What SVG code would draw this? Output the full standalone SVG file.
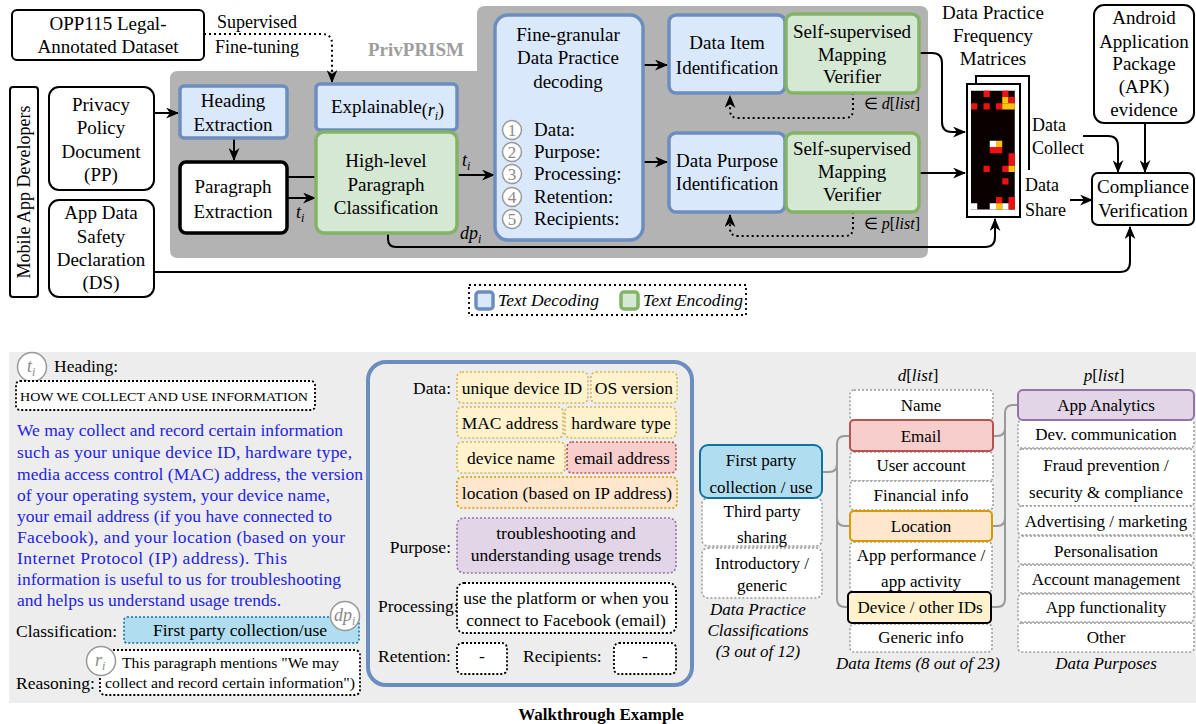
<svg xmlns="http://www.w3.org/2000/svg" width="1196" height="724" viewBox="0 0 1196 724">
  <defs>
    <style>
      text { font-family: "Liberation Serif", "Times New Roman", serif; fill: #000; }
      .s19 { font-size: 19px; }
      .s18 { font-size: 18px; }
      .s17 { font-size: 17.5px; }
      .s16 { font-size: 17px; }
      .m { text-anchor: middle; }
      .e { text-anchor: end; }
      .i { font-style: italic; }
      .box { fill: #fff; stroke: #000; stroke-width: 2; }
      .dec { fill: #dae8fc; stroke: #6c8ebf; stroke-width: 3.5; }
      .enc { fill: #d5e8d4; stroke: #82b366; stroke-width: 3.5; }
      .wire { fill: none; stroke: #000; stroke-width: 2; }
      .dotw { fill: none; stroke: #000; stroke-width: 2; stroke-dasharray: 2 3; }
      .gline { fill: none; stroke: #9a9a9a; stroke-width: 2; }
      .dbox { fill: #fff; stroke: #9a9a9a; stroke-width: 1.5; stroke-dasharray: 2 2; }
      .kbox { fill: #fff; stroke: #000; stroke-width: 1.8; stroke-dasharray: 2 2; }
      .ybox { fill: #fff2cc; stroke: #d6b656; stroke-width: 1.6; stroke-dasharray: 2 2; }
      .rbox { fill: #f8cecc; stroke: #b85450; stroke-width: 1.6; stroke-dasharray: 2 2; }
      .obox { fill: #ffe6cc; stroke: #d79b00; stroke-width: 1.6; stroke-dasharray: 2 2; }
      .pbox { fill: #e1d5e7; stroke: #9673a6; stroke-width: 1.6; stroke-dasharray: 2 2; }
      .circ { fill: #fff; stroke: #999; stroke-width: 1.5; }
      .gnum { fill: #8a8a8a; font-size: 17px; }
      .blue { fill: #2222e6; font-size: 17.5px; }
      .red { fill: #ee1111; }
      .yel { fill: #ffc20e; }
      .wht { fill: #ffffff; }
    </style>
    <marker id="ah" viewBox="0 0 12 10" refX="11" refY="5" markerWidth="13" markerHeight="11" orient="auto" markerUnits="userSpaceOnUse">
      <path d="M0,0 L12,5 L0,10 L3.5,5 Z" fill="#000"/>
    </marker>
  </defs>

  <rect width="1196" height="724" fill="#fff"/>

  <!-- PrivPRISM pipeline area -->
  <path d="M178,71 H477 V14 Q477,6 485,6 H920 Q928,6 928,14 V250 Q928,258 920,258 H178 Q170,258 170,250 V79 Q170,71 178,71 Z" fill="#b3b3b3"/>
  <text x="416" y="56" class="s19 m" font-weight="bold" fill="#9e9e9e" style="fill:#9e9e9e">PrivPRISM</text>

  <!-- connectors -->
  <g id="connectors">
    <path class="dotw" d="M204,34 H322 Q332,34 332,44 V82" marker-end="url(#ah)"/>
    <path class="wire" d="M154,113 H178" marker-end="url(#ah)"/>
    <path class="wire" d="M234,138 V160" marker-end="url(#ah)"/>
    <path class="wire" d="M287,177 H316"/>
    <path class="wire" d="M287,198 H315" marker-end="url(#ah)"/>
    <path class="wire" d="M457,175 H494" marker-end="url(#ah)"/>
    <path class="wire" d="M388,233 V239 Q388,247 396,247 H985 Q995,247 995,237 V219" marker-end="url(#ah)"/>
    <path class="wire" d="M644,65 H667" marker-end="url(#ah)"/>
    <path class="wire" d="M644,162 H667" marker-end="url(#ah)"/>
    <path class="dotw" d="M853,93 V110 Q853,118 845,118 H738 Q730,118 730,110 V96" marker-end="url(#ah)"/>
    <path class="dotw" d="M853,212 V228 Q853,236 845,236 H738 Q730,236 730,228 V215" marker-end="url(#ah)"/>
    <path class="wire" d="M920,53 H932 Q942,53 942,63 V122 Q942,132 952,132 H965" marker-end="url(#ah)"/>
    <path class="wire" d="M920,173 H965" marker-end="url(#ah)"/>
    <path class="wire" d="M1083,136 H1108 Q1118,136 1118,146 V172" marker-end="url(#ah)"/>
    <path class="wire" d="M1070,200 H1092" marker-end="url(#ah)"/>
    <path class="wire" d="M1145,123 V172" marker-end="url(#ah)"/>
    <path class="wire" d="M154,272 H1120 Q1130,272 1130,262 V227" marker-end="url(#ah)"/>
  </g>

  <!-- connector labels -->
  <g id="connector-labels">
    <text x="257" y="28" class="s18 m">Supervised</text>
    <text x="257" y="53" class="s18 m">Fine-tuning</text>
    <text x="296" y="218" class="s18 i">t<tspan font-size="12" dy="4">i</tspan></text>
    <text x="462" y="166" class="s18 i">t<tspan font-size="12" dy="4">i</tspan></text>
    <text x="460" y="239" class="s18 i">dp<tspan font-size="12" dy="4">i</tspan></text>
    <text x="920" y="109" class="e" font-size="16">∈ <tspan font-style="italic">d</tspan>[<tspan font-style="italic">list</tspan>]</text>
    <text x="920" y="229" class="e" font-size="16">∈ <tspan font-style="italic">p</tspan>[<tspan font-style="italic">list</tspan>]</text>
    <text x="1032" y="131" class="s18">Data</text>
    <text x="1032" y="154" class="s18">Collect</text>
    <text x="1025" y="191" class="s18">Data</text>
    <text x="1025" y="216" class="s18">Share</text>
  </g>

  <g id="opp115">
    <rect x="12" y="10" width="192" height="50" rx="5" class="box"/>
    <text x="108" y="30" class="s19 m">OPP115 Legal-</text>
    <text x="108" y="53" class="s19 m">Annotated Dataset</text>
  </g>

  <g id="developers">
    <rect x="10" y="87" width="28" height="210" rx="3" class="box"/>
    <text transform="translate(30,192) rotate(-90)" class="s18 m">Mobile App Developers</text>
  </g>

  <g id="privacy-policy">
    <rect x="49" y="87" width="105" height="103" rx="10" class="box"/>
    <text x="101" y="111" class="s19 m">Privacy</text>
    <text x="101" y="134" class="s19 m">Policy</text>
    <text x="101" y="158" class="s19 m">Document</text>
    <text x="101" y="181" class="s19 m">(PP)</text>
  </g>

  <g id="data-safety">
    <rect x="49" y="200" width="105" height="97" rx="10" class="box"/>
    <text x="101" y="219" class="s19 m">App Data</text>
    <text x="101" y="243" class="s19 m">Safety</text>
    <text x="101" y="266" class="s19 m">Declaration</text>
    <text x="101" y="289" class="s19 m">(DS)</text>
  </g>

  <g id="heading-extraction">
    <rect x="180" y="86" width="107" height="52" rx="4" class="dec"/>
    <text x="233" y="107" class="s19 m">Heading</text>
    <text x="233" y="131" class="s19 m">Extraction</text>
  </g>

  <g id="paragraph-extraction">
    <rect x="180" y="162" width="107" height="71" rx="6" fill="#fff" stroke="#000" stroke-width="3.5"/>
    <text x="233" y="193" class="s19 m">Paragraph</text>
    <text x="233" y="218" class="s19 m">Extraction</text>
  </g>

  <g id="explainable">
    <rect x="316" y="84" width="141" height="46" rx="4" class="dec"/>
    <text x="331" y="113" class="s19">Explainable<tspan font-size="18" dy="3">(</tspan><tspan font-style="italic" font-size="18">r</tspan><tspan font-style="italic" font-size="12" dy="4">i</tspan><tspan font-size="18" dy="-4">)</tspan></text>
  </g>

  <g id="paragraph-classification">
    <rect x="316" y="132" width="141" height="101" rx="8" class="enc"/>
    <text x="386" y="167" class="s19 m">High-level</text>
    <text x="386" y="191" class="s19 m">Paragraph</text>
    <text x="386" y="214" class="s19 m">Classification</text>
  </g>

  <g id="fine-granular-decoding">
    <rect x="495" y="15" width="148" height="225" rx="13" class="dec" stroke-width="4"/>
    <text x="568" y="41" class="s19 m">Fine-granular</text>
    <text x="568" y="64" class="s19 m">Data Practice</text>
    <text x="568" y="88" class="s19 m">decoding</text>
    <circle cx="512" cy="130" r="9.5" class="circ"/>
    <text x="512" y="136" class="gnum m">1</text>
    <circle cx="512" cy="152" r="9.5" class="circ"/>
    <text x="512" y="158" class="gnum m">2</text>
    <circle cx="512" cy="174" r="9.5" class="circ"/>
    <text x="512" y="180" class="gnum m">3</text>
    <circle cx="512" cy="197" r="9.5" class="circ"/>
    <text x="512" y="203" class="gnum m">4</text>
    <circle cx="512" cy="219" r="9.5" class="circ"/>
    <text x="512" y="225" class="gnum m">5</text>
    <text x="534" y="136" class="s19">Data:</text>
    <text x="534" y="158" class="s19">Purpose:</text>
    <text x="534" y="180" class="s19">Processing:</text>
    <text x="534" y="203" class="s19">Retention:</text>
    <text x="534" y="225" class="s19">Recipients:</text>
  </g>

  <g id="data-item-identification">
    <rect x="669" y="15" width="116" height="78" rx="7" class="dec"/>
    <text x="727" y="49" class="s19 m">Data Item</text>
    <text x="727" y="74" class="s19 m">Identification</text>
  </g>

  <g id="item-verifier">
    <rect x="786" y="14" width="133" height="79" rx="7" class="enc"/>
    <text x="852" y="38" class="s19 m">Self-supervised</text>
    <text x="852" y="61" class="s19 m">Mapping</text>
    <text x="852" y="83" class="s19 m">Verifier</text>
  </g>

  <g id="data-purpose-identification">
    <rect x="669" y="133" width="116" height="79" rx="7" class="dec"/>
    <text x="727" y="167" class="s19 m">Data Purpose</text>
    <text x="727" y="190" class="s19 m">Identification</text>
  </g>

  <g id="purpose-verifier">
    <rect x="786" y="133" width="133" height="79" rx="7" class="enc"/>
    <text x="852" y="155" class="s19 m">Self-supervised</text>
    <text x="852" y="178" class="s19 m">Mapping</text>
    <text x="852" y="201" class="s19 m">Verifier</text>
  </g>

  <g id="frequency-matrices">
    <text x="993" y="19" class="s19 m">Data Practice</text>
    <text x="993" y="42" class="s19 m">Frequency</text>
    <text x="993" y="65" class="s19 m">Matrices</text>
    <path d="M976,84 V76 H1029 V170" fill="none" stroke="#000" stroke-width="2"/>
    <rect x="967" y="84" width="53" height="133" fill="#fff" stroke="#000" stroke-width="2"/>
    <g transform="translate(971,90.75)">
      <rect x="0" y="0" width="43.75" height="118.75" fill="#0a0000"/>
      <g transform="scale(6.25)">
        <rect class="red" x="2" y="0" width="1" height="1"/>
        <rect class="red" x="5" y="0" width="1" height="1"/>
        <rect class="yel" x="5" y="1" width="1" height="1"/>
        <rect class="red" x="6" y="1" width="1" height="1"/>
        <rect class="red" x="0" y="2" width="1" height="1"/>
        <rect class="red" x="2" y="2" width="1" height="1"/>
        <rect class="red" x="4" y="2" width="1" height="1"/>
        <rect class="yel" x="5" y="2" width="2" height="1"/>
        <rect class="wht" x="3" y="8" width="1" height="1"/>
        <rect class="yel" x="4" y="8" width="1" height="1"/>
        <rect class="red" x="3" y="9" width="2" height="1"/>
        <rect class="red" x="6" y="10" width="1" height="2"/>
        <rect class="red" x="2" y="12" width="1" height="1"/>
        <rect class="red" x="5" y="12" width="1" height="1"/>
        <rect class="yel" x="6" y="12" width="1" height="1"/>
        <rect class="red" x="5" y="14" width="1" height="1"/>
        <rect class="red" x="4" y="17" width="1" height="1"/>
        <rect class="red" x="6" y="17" width="1" height="2"/>
        <rect class="wht" x="0" y="18" width="1" height="1"/>
        <rect class="wht" x="3" y="18" width="1" height="1"/>
        <rect class="yel" x="4" y="18" width="1" height="1"/>
        <rect class="wht" x="5" y="18" width="1" height="1"/>
      </g>
    </g>
  </g>

  <g id="apk-evidence">
    <rect x="1094" y="5" width="100" height="118" rx="10" class="box"/>
    <text x="1144" y="24" class="s19 m">Android</text>
    <text x="1144" y="48" class="s19 m">Application</text>
    <text x="1144" y="70" class="s19 m">Package</text>
    <text x="1144" y="93" class="s19 m">(APK)</text>
    <text x="1144" y="116" class="s19 m">evidence</text>
  </g>

  <g id="compliance-verification">
    <rect x="1092" y="173" width="102" height="52" rx="6" class="box"/>
    <text x="1143" y="193" class="s19 m">Compliance</text>
    <text x="1143" y="217" class="s19 m">Verification</text>
  </g>

  <g id="legend">
    <rect x="469" y="285" width="277" height="30" fill="#fff" stroke="#000" stroke-width="1.8" stroke-dasharray="2 3"/>
    <rect x="476" y="292" width="17" height="17" rx="3" class="dec" stroke-width="3"/>
    <text x="498" y="306" class="s17 i">Text Decoding</text>
    <rect x="621" y="292" width="17" height="17" rx="3" class="enc" stroke-width="3"/>
    <text x="643" y="306" class="s17 i">Text Encoding</text>
  </g>

  <!-- Walkthrough example -->
  <rect x="9" y="352" width="1187" height="351" fill="#ededed"/>

  <g id="paragraph-input">
    <circle cx="32" cy="367" r="14.5" class="circ"/>
    <text x="27" y="372" font-size="18" font-style="italic" style="fill:#8a8a8a">t<tspan font-size="12" dy="4">i</tspan></text>
    <text x="54" y="372" class="s17">Heading:</text>
    <rect x="16" y="381" width="299" height="29" rx="4" class="kbox"/>
    <text x="20" y="401" font-size="13.5" textLength="288" lengthAdjust="spacingAndGlyphs">HOW WE COLLECT AND USE INFORMATION</text>
    <text x="17" y="436" class="blue" textLength="326" lengthAdjust="spacing">We may collect and record certain information</text>
    <text x="17" y="458" class="blue" textLength="335" lengthAdjust="spacing">such as your unique device ID, hardware type,</text>
    <text x="17" y="480" class="blue" textLength="346" lengthAdjust="spacing">media access control (MAC) address, the version</text>
    <text x="17" y="501" class="blue" textLength="313" lengthAdjust="spacing">of your operating system, your device name,</text>
    <text x="17" y="522" class="blue" textLength="315" lengthAdjust="spacing">your email address (if you have connected to</text>
    <text x="17" y="543" class="blue" textLength="328" lengthAdjust="spacing">Facebook), and your location (based on your</text>
    <text x="17" y="564" class="blue" textLength="270" lengthAdjust="spacing">Internet Protocol (IP) address). This</text>
    <text x="17" y="585" class="blue" textLength="324" lengthAdjust="spacing">information is useful to us for troubleshooting</text>
    <text x="17" y="606" class="blue" textLength="264" lengthAdjust="spacing">and helps us understand usage trends.</text>
    <text x="16" y="637" class="s17">Classification:</text>
    <rect x="124" y="617" width="235" height="26" rx="3" fill="#b1ddf0" stroke="#10739e" stroke-width="1.6" stroke-dasharray="2 2"/>
    <text x="240" y="636" class="s17 m">First party collection/use</text>
    <circle cx="345" cy="616" r="14.5" class="circ"/>
    <text x="334" y="621" font-size="18" font-style="italic" style="fill:#8a8a8a">dp<tspan font-size="12" dy="4">i</tspan></text>
    <text x="16" y="689" class="s17">Reasoning:</text>
    <rect x="100" y="650" width="260" height="45" rx="5" class="kbox"/>
    <circle cx="101" cy="661" r="14.5" class="circ"/>
    <text x="95" y="666" font-size="18" font-style="italic" style="fill:#8a8a8a">r<tspan font-size="12" dy="4">i</tspan></text>
    <text x="122" y="668" font-size="15.5" textLength="217" lengthAdjust="spacingAndGlyphs">This paragraph mentions "We may</text>
    <text x="105" y="688" font-size="15.5" textLength="250" lengthAdjust="spacingAndGlyphs">collect and record certain information")</text>
  </g>

  <g id="decoded-practice">
    <rect x="368" y="362" width="324" height="323" rx="18" fill="none" stroke="#6c8ebf" stroke-width="4"/>
    <text x="451" y="394" class="s17 e">Data:</text>
    <rect x="457" y="372" width="131" height="31" rx="5" class="ybox"/>
    <text x="522" y="394" class="s17 m">unique device ID</text>
    <rect x="591" y="372" width="86" height="31" rx="5" class="ybox"/>
    <text x="634" y="394" class="s17 m">OS version</text>
    <rect x="457" y="407" width="106" height="31" rx="5" class="ybox"/>
    <text x="510" y="429" class="s17 m">MAC address</text>
    <rect x="565" y="407" width="111" height="31" rx="5" class="ybox"/>
    <text x="621" y="429" class="s17 m">hardware type</text>
    <rect x="457" y="442" width="108" height="31" rx="5" class="ybox"/>
    <text x="511" y="464" class="s17 m">device name</text>
    <rect x="567" y="442" width="109" height="31" rx="5" class="rbox"/>
    <text x="622" y="464" class="s17 m">email address</text>
    <rect x="457" y="477" width="220" height="31" rx="5" class="obox"/>
    <text x="567" y="499" class="s17 m">location (based on IP address)</text>
    <text x="451" y="553" class="s17 e">Purpose:</text>
    <rect x="457" y="518" width="219" height="55" rx="7" class="pbox"/>
    <text x="566" y="539" class="s17 m">troubleshooting and</text>
    <text x="566" y="561" class="s17 m">understanding usage trends</text>
    <text x="378" y="612" class="s17">Processing:</text>
    <rect x="457" y="583" width="219" height="50" rx="7" class="kbox"/>
    <text x="566" y="604" class="s17 m">use the platform or when you</text>
    <text x="566" y="626" class="s17 m">connect to Facebook (email)</text>
    <text x="378" y="662" class="s17">Retention:</text>
    <rect x="457" y="643" width="50" height="31" rx="5" class="kbox"/>
    <text x="482" y="662" class="s17 m">-</text>
    <text x="523" y="662" class="s17">Recipients:</text>
    <rect x="614" y="643" width="62" height="31" rx="5" class="kbox"/>
    <text x="645" y="662" class="s17 m">-</text>
  </g>

  <g id="mapping-lines">
    <path class="gline" d="M822,472 H829 Q837,472 837,464"/>
    <path class="gline" d="M850,436 H845 Q837,436 837,444 V599 Q837,607 845,607 H848"/>
    <path class="gline" d="M837,518 Q837,526 845,526 H850"/>
    <path class="gline" d="M993,436 H997 Q1005,436 1005,428 V413 Q1005,405 1013,405 H1018"/>
    <path class="gline" d="M1005,428 V599 Q1005,607 997,607 H991"/>
    <path class="gline" d="M991,526 H997 Q1005,526 1005,518"/>
  </g>

  <g id="practice-classifications">
    <rect x="702" y="498" width="120" height="48" rx="6" class="dbox"/>
    <text x="762" y="517" class="s16 m">Third party</text>
    <text x="762" y="543" class="s16 m">sharing</text>
    <rect x="702" y="548" width="120" height="50" rx="6" class="dbox"/>
    <text x="762" y="569" class="s16 m">Introductory /</text>
    <text x="762" y="591" class="s16 m">generic</text>
    <rect x="700" y="445" width="122" height="53" rx="8" fill="#b1ddf0" stroke="#10739e" stroke-width="2"/>
    <text x="761" y="466" class="s16 m">First party</text>
    <text x="761" y="493" class="s16 m">collection / use</text>
    <text x="758" y="615" class="s16 m i">Data Practice</text>
    <text x="758" y="636" class="s16 m i">Classifications</text>
    <text x="758" y="657" class="s16 m i">(3 out of 12)</text>
  </g>

  <g id="data-items">
    <text x="918" y="381" class="s16 m"><tspan font-style="italic">d</tspan>[<tspan font-style="italic">list</tspan>]</text>
    <rect x="850" y="390" width="143" height="30" rx="4" class="dbox"/>
    <text x="921" y="411" class="s16 m">Name</text>
    <rect x="850" y="452" width="143" height="29" rx="4" class="dbox"/>
    <text x="921" y="471" class="s16 m">User account</text>
    <rect x="850" y="481" width="143" height="29" rx="4" class="dbox"/>
    <text x="921" y="501" class="s16 m">Financial info</text>
    <rect x="850" y="542" width="142" height="50" rx="4" class="dbox"/>
    <text x="921" y="561" class="s16 m">App performance /</text>
    <text x="921" y="587" class="s16 m">app activity</text>
    <rect x="850" y="624" width="142" height="28" rx="4" class="dbox"/>
    <text x="921" y="643" class="s16 m">Generic info</text>
    <rect x="850" y="420" width="143" height="31" rx="4" fill="#f8cecc" stroke="#b85450" stroke-width="2"/>
    <text x="921" y="442" class="s16 m">Email</text>
    <rect x="850" y="511" width="142" height="30" rx="4" fill="#ffe6cc" stroke="#d79b00" stroke-width="2"/>
    <text x="921" y="532" class="s16 m">Location</text>
    <rect x="848" y="592" width="143" height="31" rx="4" fill="#fff2cc" stroke="#000" stroke-width="2"/>
    <text x="920" y="613" class="s16 m">Device / other IDs</text>
    <text x="918" y="669" class="s16 m i">Data Items (8 out of 23)</text>
  </g>

  <g id="data-purposes">
    <text x="1104" y="381" class="s16 m"><tspan font-style="italic">p</tspan>[<tspan font-style="italic">list</tspan>]</text>
    <rect x="1018" y="420" width="176" height="28" rx="4" class="dbox"/>
    <text x="1106" y="440" class="s16 m">Dev. communication</text>
    <rect x="1018" y="449" width="176" height="57" rx="4" class="dbox"/>
    <text x="1106" y="471" class="s16 m">Fraud prevention /</text>
    <text x="1106" y="498" class="s16 m">security &amp; compliance</text>
    <rect x="1018" y="506" width="176" height="29" rx="4" class="dbox"/>
    <text x="1106" y="527" class="s16 m">Advertising / marketing</text>
    <rect x="1018" y="536" width="176" height="28" rx="4" class="dbox"/>
    <text x="1106" y="557" class="s16 m">Personalisation</text>
    <rect x="1018" y="565" width="176" height="28" rx="4" class="dbox"/>
    <text x="1106" y="585" class="s16 m">Account management</text>
    <rect x="1018" y="594" width="176" height="28" rx="4" class="dbox"/>
    <text x="1106" y="613" class="s16 m">App functionality</text>
    <rect x="1018" y="623" width="176" height="29" rx="4" class="dbox"/>
    <text x="1106" y="643" class="s16 m">Other</text>
    <rect x="1018" y="390" width="176" height="30" rx="5" fill="#e1d5e7" stroke="#9673a6" stroke-width="2"/>
    <text x="1106" y="411" class="s16 m">App Analytics</text>
    <text x="1106" y="669" class="s16 m i">Data Purposes</text>
  </g>

  <text x="601" y="720" font-size="17" font-weight="bold" class="m">Walkthrough Example</text>
</svg>
